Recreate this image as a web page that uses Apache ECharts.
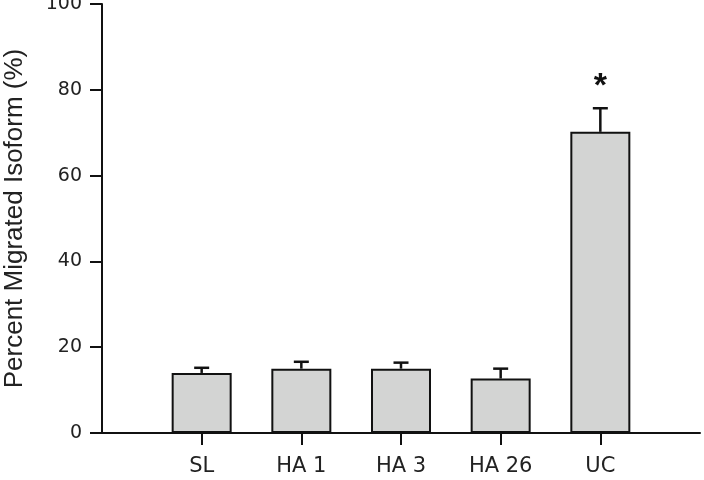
<!DOCTYPE html>
<html>
<head>
<meta charset="utf-8">
<script src="https://cdn.jsdelivr.net/npm/echarts@6/dist/echarts.min.js"></script>
<style>html,body{margin:0;padding:0;background:#fff}#c{width:704px;height:480px}</style>
</head>
<body>
<div id="c"></div>
<script>
// Categories (empty slots pad the axis on both ends)
var categories = ['', 'SL', 'HA 1', 'HA 3', 'HA 26', 'UC', ''];
// Mean percent migrated isoform
var means = [null, 14.0, 15.0, 15.0, 12.7, 70.2, null];
// Error (upper error bar length)
var errors = [null, 1.2, 1.6, 1.4, 2.3, 5.5, null];
// Significance markers
var marks = ['', '', '', '', '', '*', ''];
// Y axis ticks
var yTicks = [0, 20, 40, 60, 80, 100];

var errData = [];
for (var i = 0; i < categories.length; i++) {
  if (means[i] != null) errData.push([i, means[i], means[i] + errors[i], marks[i]]);
}

var chart = echarts.init(document.getElementById('c'), null, {renderer: 'canvas'});
chart.setOption({
  animation: false,
  grid: {left: 102, right: 4, top: 4, bottom: 47, containLabel: false, outerBoundsMode: 'none'},
  xAxis: {
    type: 'category',
    data: categories,
    boundaryGap: false,
    axisLine: {lineStyle: {color: '#111', width: 2}},
    axisTick: {
      length: 12, lineStyle: {color: '#111', width: 2},
      interval: function (idx, val) { return val !== ''; }
    },
    axisLabel: {
      interval: 0, margin: 23, color: '#222',
      fontFamily: 'DejaVu Sans', fontSize: 21
    },
    splitLine: {show: false}
  },
  yAxis: {
    type: 'value', min: 0, max: 100, interval: 20,
    name: 'Percent Migrated Isoform (%)',
    nameLocation: 'middle', nameGap: 74,
    nameTextStyle: {color: '#222', fontFamily: 'Liberation Sans', fontSize: 26},
    axisLine: {show: true, lineStyle: {color: '#111', width: 2}},
    axisTick: {show: true, length: 12, lineStyle: {color: '#111', width: 2}},
    axisLabel: {margin: 20, color: '#222', fontFamily: 'DejaVu Sans', fontSize: 19,
      formatter: function (v) { return yTicks.indexOf(v) >= 0 ? String(v) : ''; }},
    splitLine: {show: false}
  },
  series: [{
    type: 'bar',
    data: means,
    barWidth: 60,
    itemStyle: {color: '#d3d4d3', borderColor: '#111', borderWidth: 2}
  }, {
    type: 'custom',
    data: errData,
    z: 3,
    renderItem: function (params, api) {
      var x = api.value(0);
      var lo = api.coord([x, api.value(1)]);
      var hi = api.coord([x, api.value(2)]);
      var cap = 7.5;
      var style = {stroke: '#111', lineWidth: 2.5};
      var children = [
        {type: 'line', shape: {x1: lo[0], y1: lo[1], x2: hi[0], y2: hi[1]}, style: style},
        {type: 'line', shape: {x1: hi[0] - cap, y1: hi[1], x2: hi[0] + cap, y2: hi[1]}, style: style}
      ];
      var m = api.value(3);
      if (m) {
        children.push({type: 'text', x: hi[0], y: hi[1] - 22,
          style: {text: m, fill: '#111', font: 'bold 34px "Liberation Sans"', align: 'center', verticalAlign: 'middle'}});
      }
      return {type: 'group', children: children};
    }
  }]
});
</script>
</body>
</html>
